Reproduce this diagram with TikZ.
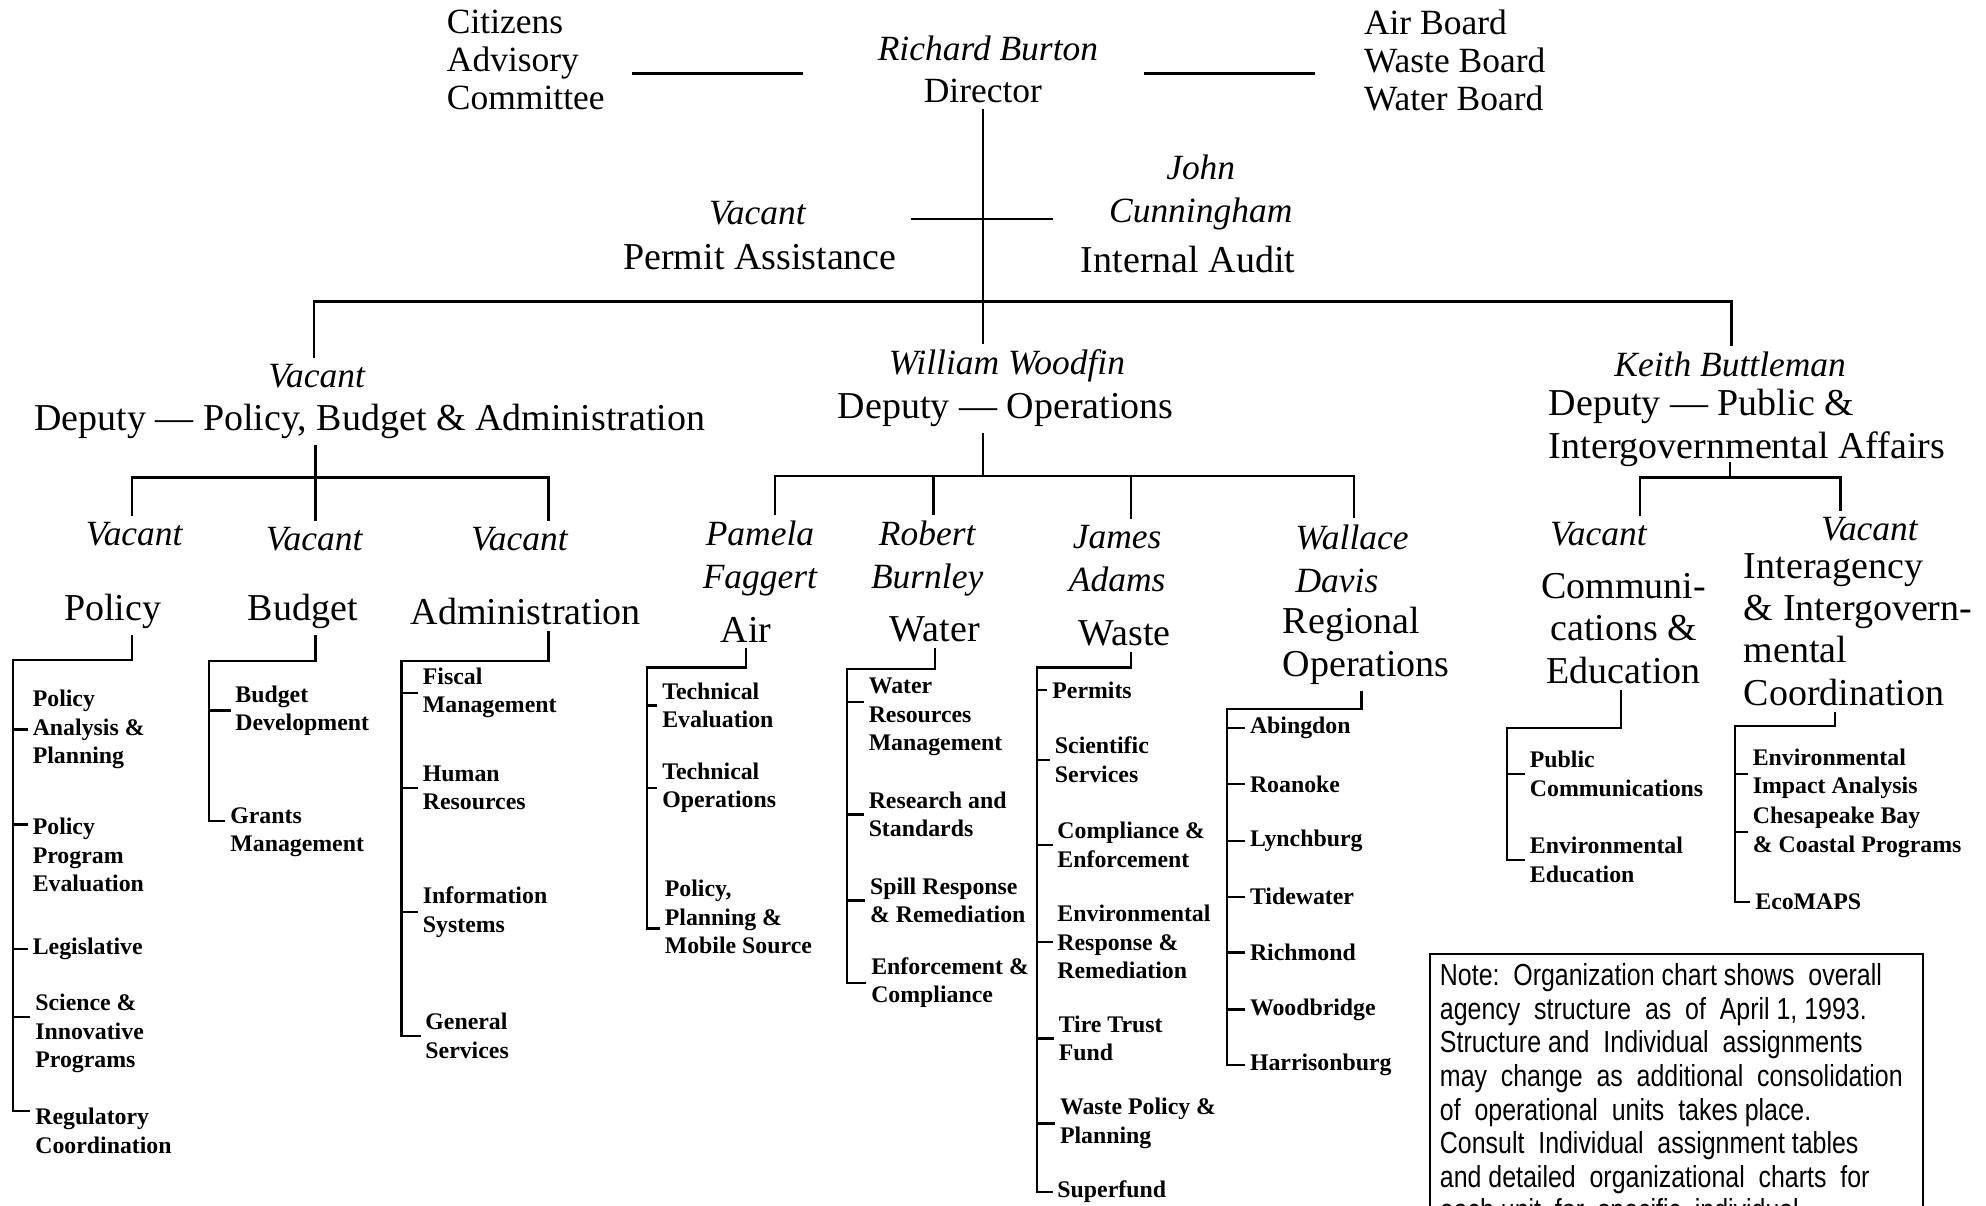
\documentclass[tikz,border=0pt]{standalone}
\usepackage{fontspec}
\setmainfont{Liberation Serif}
\newfontfamily\notefont{Liberation Sans}[FakeStretch=0.82]
\usetikzlibrary{positioning}

\begin{document}
\begin{tikzpicture}[x=0.5pt, y=-0.5pt, line width=0.9pt,
    every node/.style={inner sep=2pt},
    toptext/.style={font=\fontsize{14}{15}\selectfont, align=left},
    who/.style={font=\fontsize{14}{17}\selectfont\itshape, align=center},
    head/.style={font=\fontsize{15}{16.75}\selectfont, align=center},
    unit/.style={font=\fontsize{9.4}{11.25}\selectfont\bfseries, align=left, anchor=west, inner sep=1.5pt},
    notetext/.style={font=\notefont\fontsize{12}{13.25}\selectfont, align=left, anchor=north west, inner sep=0pt}]

    % Page frame
    \useasboundingbox (0,0) rectangle (1568,952);
    \clip (0,0) rectangle (1568,952);

    % Director with the boards on both sides
    \node[toptext, anchor=west] (cac) at (348,47) {Citizens\\Advisory\\Committee};
    \node[who] (rb) at (780,38) {Richard Burton};
    \node[toptext] (dir) at (776,72) {Director};
    \node[toptext, anchor=west] (brd) at (1072,48) {Air Board\\Waste Board\\Water Board};
    \coordinate (cl1) at (499,58);
    \coordinate (cl2) at (634,58);
    \coordinate (cr1) at (903,58);
    \coordinate (cr2) at (1038,58);
    \draw (cl1) -- (cl2);
    \draw (cr1) -- (cr2);

    % Staff offices on the cross bar
    \node[who] (pav) at (598,168) {Vacant};
    \node[head] (pa) at (600,203) {Permit Assistance};
    \node[who] (jc) at (948,152) {John\\Cunningham};
    \node[head] (ia) at (938,205) {Internal Audit};
    \coordinate (sl) at (719,173);
    \coordinate (sr) at (831,173);
    \draw (sl) -- (sr);

    % The three deputies
    \node[who] (pbav) at (250,297) {Vacant};
    \node[head] (pba) at (292,333) {Deputy — Policy, Budget \& Administration};
    \node[who] (wwn) at (795,289) {William Woodfin};
    \node[head] (ops) at (794,324) {Deputy — Operations};
    \node[who] (kbn) at (1366,288) {Keith Buttleman};
    \node[head, anchor=west, align=left] (pia) at (1218,338) {Deputy — Public \&\\Intergovernmental Affairs};

    \draw (dir.south) -- (dir.south |- wwn.north);
    \coordinate (bl) at (248,238);
    \coordinate (br) at (1367,238);
    \draw (bl |- pbav.north) -- (bl) -- (br) -- (br |- kbn.north);

    % Divisions under Policy, Budget & Administration
    \node[who] (polv) at (106,422) {Vacant};
    \node[who] (budv) at (248,426) {Vacant};
    \node[who] (admv) at (410,426) {Vacant};
    \node[head] (pol) at (89,483) {Policy};
    \node[head] (bud) at (239,483) {Budget};
    \node[head] (adm) at (415,483) {Administration};
    \coordinate (lb1) at (104,377);
    \coordinate (lb2) at (249,377);
    \coordinate (lb3) at (433,377);
    \draw (lb2 |- pba.south) -- (lb2);
    \draw (lb1 |- polv.north) -- (lb1) -- (lb3) -- (lb3 |- admv.north);
    \draw (lb2) -- (lb2 |- budv.north);

    % Divisions under Operations
    \node[who] (pfn) at (600,441) {Pamela\\Faggert};
    \node[who] (rbu) at (732,441) {Robert\\Burnley};
    \node[who] (jan) at (882,441) {James\\Adams};
    \node[who, anchor=west, align=left] (wdn) at (1018,441) {Wallace\\Davis};
    \node[head] (air) at (589,497) {Air};
    \node[head] (wat) at (738,497) {Water};
    \node[head] (wst) at (888,500) {Waste};
    \node[head, anchor=west, align=left] (reg) at (1008,510) {Regional\\Operations};
    \coordinate (mb1) at (612,376);
    \coordinate (mb2) at (737,376);
    \coordinate (mb3) at (893,376);
    \coordinate (mb4) at (1069,376);
    \draw (dir.south |- ops.south) -- (dir.south |- mb1);
    \draw (mb1 |- pfn.north) -- (mb1) -- (mb4) -- (mb4 |- wdn.north);
    \draw (mb2) -- (mb2 |- rbu.north);
    \draw (mb3) -- (mb3 |- jan.north);

    % Divisions under Public & Intergovernmental Affairs
    \node[who] (ccv) at (1262,422) {Vacant};
    \node[head] (cce) at (1282,496) {Communi-\\cations \&\\Education};
    \node[who] (iiv) at (1476,418) {Vacant};
    \node[head, anchor=west, align=left] (iic) at (1372,497) {Interagency\\\& Intergovern-\\mental\\Coordination};
    \coordinate (piab) at (1366,365);
    \coordinate (rbk) at (1366,377);
    \coordinate (rb1) at (1295,377);
    \coordinate (rb2) at (1453,377);
    \draw (piab) -- (rbk);
    \draw (rb1 |- ccv.north) -- (rb1) -- (rb2) -- (rb2 |- iiv.north);

    % Policy units
    \node[unit] (pu1) at (22,576) {Policy\\Analysis \&\\Planning};
    \node[unit] (pu2) at (22,675) {Policy\\Program\\Evaluation};
    \node[unit] (pu3) at (22,749) {Legislative};
    \node[unit] (pu4) at (24,816) {Science \&\\Innovative\\Programs};
    \node[unit] (pu5) at (24,893) {Regulatory\\Coordination};
    \coordinate (polk) at (104,521);
    \coordinate (polsp) at (10,521);
    \coordinate (pt2) at ([yshift=12pt]pu2.west);
    \coordinate (pt4) at ([yshift=6.5pt]pu4.west);
    \coordinate (pt5) at ([yshift=8pt]pu5.west);
    \draw (polk |- pol.south) -- (polk) -- (polsp) |- (pt5);
    \foreach \t in {pu1.west, pt2, pu3.west, pt4}
        \draw (\t) -- (\t -| polsp);

    % Budget units
    \node[unit] (bu1) at (182,561) {Budget\\Development};
    \node[unit] (bu2) at (178,657) {Grants\\Management};
    \coordinate (budk) at (249,522);
    \coordinate (budsp) at (165,522);
    \coordinate (bt2) at ([yshift=4.5pt]bu2.west);
    \draw (budk |- bud.south) -- (budk) -- (budsp) |- (bt2);
    \draw (bu1.west) -- (bu1.west -| budsp);

    % Administration units
    \node[unit] (au1) at (330,547) {Fiscal\\Management};
    \node[unit] (au2) at (330,622) {Human\\Resources};
    \node[unit] (au3) at (330,720) {Information\\Systems};
    \node[unit] (au4) at (332,818) {General\\Services};
    \coordinate (admk) at (433,522);
    \coordinate (admsp) at (317,522);
    \draw (admk |- adm.south) -- (admk) -- (admsp) |- (au4.west);
    \foreach \t in {au1, au2, au3}
        \draw (\t.west) -- (\t.west -| admsp);

    % Air units
    \node[unit] (ai1) at (519,557) {Technical\\Evaluation};
    \node[unit] (ai2) at (519,622) {Technical\\Operations};
    \node[unit] (ai3) at (521,724) {Policy,\\Planning \&\\Mobile Source};
    \coordinate (airsp) at (511,527);
    \coordinate (at3) at ([yshift=-4.5pt]ai3.west);
    \draw (air.south) |- (airsp) |- (at3);
    \foreach \t in {ai1, ai2}
        \draw (\t.west) -- (\t.west -| airsp);

    % Water units
    \node[unit] (wa1) at (682,566) {Water\\Resources\\Management};
    \node[unit] (wa2) at (682,643) {Research and\\Standards};
    \node[unit] (wa3) at (683,711) {Spill Response\\\& Remediation};
    \node[unit] (wa4) at (684,776) {Enforcement \&\\Compliance};
    \coordinate (watsp) at (669,528);
    \coordinate (wt1) at ([yshift=6pt]wa1.west);
    \draw (wat.south) |- (watsp) |- (wa4.west);
    \foreach \t in {wt1, wa2.west, wa3.west}
        \draw (\t) -- (\t -| watsp);

    % Waste units
    \node[unit] (ws1) at (827,545) {Permits};
    \node[unit] (ws2) at (829,600) {Scientific\\Services};
    \node[unit] (ws3) at (831,667) {Compliance \&\\Enforcement};
    \node[unit] (ws4) at (831,744) {Environmental\\Response \&\\Remediation};
    \node[unit] (ws5) at (832,820) {Tire Trust\\Fund};
    \node[unit] (ws6) at (833,887) {Waste Policy \&\\Planning};
    \node[unit] (ws7) at (831,941) {Superfund};
    \coordinate (wstk) at (893,527);
    \coordinate (wstsp) at (819,527);
    \draw (wstk |- wst.south) -- (wstk) -- (wstsp) |- (ws7.west);
    \foreach \i in {1,...,6}
        \draw (ws\i.west) -- (ws\i.west -| wstsp);

    % Regional offices
    \foreach \n/\y [count=\i] in {Abingdon/575, Roanoke/619, Lynchburg/664, Tidewater/708,
        Richmond/752, Woodbridge/797, Harrisonburg/841}
        \node[unit] (rg\i) at (983,\y) {\n};
    \coordinate (regk) at (1075,560);
    \coordinate (regsp) at (969,560);
    \draw (regk |- reg.south) -- (regk) -- (regsp) |- (rg7.west);
    \foreach \i in {1,...,6}
        \draw (rg\i.west) -- (rg\i.west -| regsp);

    % Communications units
    \node[unit] (cu1) at (1204,611) {Public\\Communications};
    \node[unit] (cu2) at (1204,679) {Environmental\\Education};
    \coordinate (cck) at (1280,575);
    \coordinate (ccsp) at (1190,575);
    \draw (cck |- cce.south) -- (cck) -- (ccsp) |- (cu2.west);
    \draw (cu1.west) -- (cu1.west -| ccsp);

    % Interagency units
    \node[unit] (iu1) at (1380,611) {Environmental\\Impact Analysis};
    \node[unit] (iu2) at (1380,657) {Chesapeake Bay\\\& Coastal Programs};
    \node[unit] (iu3) at (1382,712) {EcoMAPS};
    \coordinate (iik) at (1449,573);
    \coordinate (iisp) at (1370,573);
    \draw (iik |- iic.south) -- (iik) -- (iisp) |- (iu3.west);
    \foreach \t in {iu1, iu2}
        \draw (\t.west) -- (\t.west -| iisp);

    % Note box, running off the bottom edge
    \coordinate (nb1) at (1129,753);
    \coordinate (nb2) at (1518,990);
    \draw (nb1) rectangle (nb2);
    \node[notetext] (note) at (1136,760) {Note:\ \ Organization chart shows\ \ overall\\
        agency\ \ structure\ \ as\ \ of\ \ April 1, 1993.\\
        Structure and\ \ Individual\ \ assignments\\
        may\ \ change\ \ as\ \ additional\ \ consolidation\\
        of\ \ operational\ \ units\ \ takes place.\\
        Consult\ \ Individual\ \ assignment tables\\
        and detailed\ \ organizational\ \ charts\ \ for\\
        each unit\ \ for\ \ specific\ \ individual};

\end{tikzpicture}
\end{document}
